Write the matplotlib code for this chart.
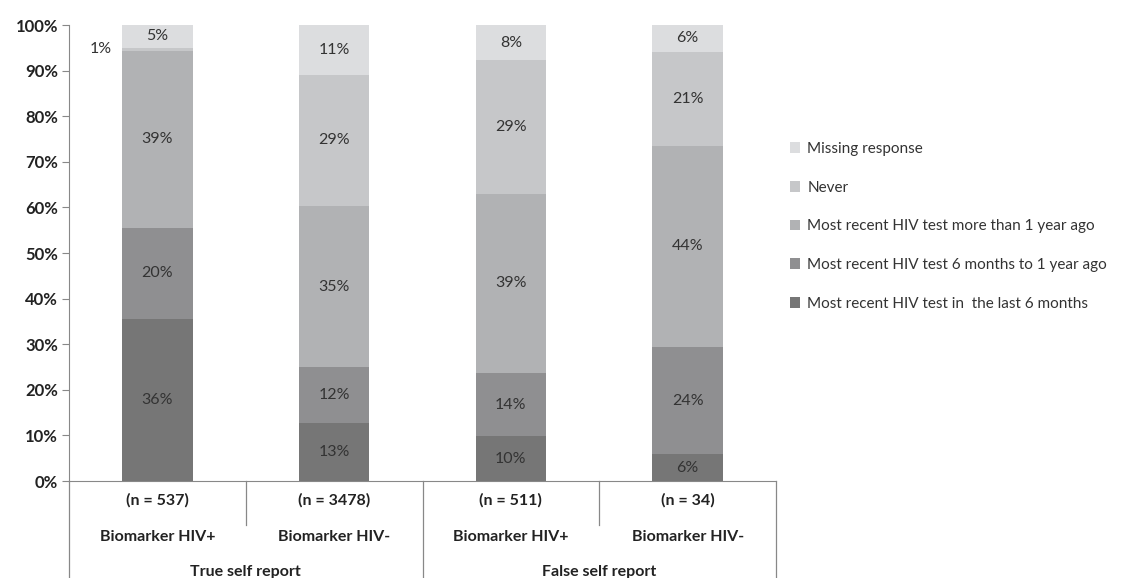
import numpy as np
import matplotlib.pyplot as plt

plt.rcParams['font.family'] = ['Lato', 'DejaVu Sans']

# Datos (porcentajes)
n_labels = ["(n = 537)", "(n = 3478)", "(n = 511)", "(n = 34)"]
biomarker = ["Biomarker HIV+", "Biomarker HIV-", "Biomarker HIV+", "Biomarker HIV-"]
groups = ["True self report", "False self report"]

series = ["Most recent HIV test in  the last 6 months",
          "Most recent HIV test 6 months to 1 year ago",
          "Most recent HIV test more than 1 year ago",
          "Never",
          "Missing response"]
last_6m = [35.6, 12.7, 9.8, 5.9]
six_to_12m = [19.9, 12.3, 13.9, 23.5]
over_1y = [38.8, 35.3, 39.3, 44.1]
never = [0.7, 28.8, 29.3, 20.6]
missing = [5.0, 10.9, 7.7, 5.9]
values = [last_6m, six_to_12m, over_1y, never, missing]
colors = ["#767676", "#8f8f91", "#b1b2b4", "#c6c7c9", "#dcdddf"]

fig = plt.figure(figsize=(11.29, 5.78), dpi=100)
ax = fig.add_axes([69 / 1129, 97 / 578, 707 / 1129, 456 / 578])

x = np.arange(4)
bottom = np.zeros(4)
for vals, col, name in zip(values, colors, series):
    ax.bar(x, vals, 0.4, bottom=bottom, color=col, label=name, zorder=2)
    for i, v in enumerate(vals):
        txt = f"{round(v):.0f}%"
        xpos = i - 0.32 if v < 2 else i
        ax.text(xpos, bottom[i] + v / 2, txt, ha='center', va='center',
                fontsize=11.5, color='#333333')
    bottom += np.array(vals)

ax.set_xlim(-0.5, 3.5)
ax.set_ylim(0, 100)
ax.set_yticks(np.arange(0, 101, 10))
ax.set_yticklabels([f"{t}%" for t in range(0, 101, 10)], fontweight='bold',
                   fontsize=12, color='#222222')
ax.set_xticks([])
ax.tick_params(axis='y', length=5, color='#888888', direction='out', pad=3)
for s in ['top', 'right']:
    ax.spines[s].set_visible(False)
ax.spines['left'].set_color('#888888')
ax.spines['bottom'].set_color('#888888')

# Tabla de categorias bajo el eje
tr = ax.transAxes
for k in range(5):
    xpos = k / 4
    y_end = -0.213 if k in (0, 2, 4) else -0.0965
    ax.plot([xpos, xpos], [0, y_end], transform=tr, color='#888888',
            lw=0.9, clip_on=False)
for i in range(4):
    xc = (i + 0.5) / 4
    ax.text(xc, -0.042, n_labels[i], transform=tr, ha='center', va='center',
            fontsize=11.5, fontweight='bold', color='#222222')
    ax.text(xc, -0.123, biomarker[i], transform=tr, ha='center', va='center',
            fontsize=11.5, fontweight='bold', color='#222222')
for j, g in enumerate(groups):
    ax.text(0.25 + 0.5 * j, -0.200, g, transform=tr, ha='center', va='center',
            fontsize=11.5, fontweight='bold', color='#222222')

handles, labels = ax.get_legend_handles_labels()
fig.legend(handles[::-1], labels[::-1], loc='upper left',
           bbox_to_anchor=(776 / 1129, 1 - 128 / 578), frameon=False,
           fontsize=11, handlelength=0.7, handleheight=0.7,
           labelspacing=1.62, handletextpad=0.45, labelcolor='#333333')

fig.savefig("out.png", dpi=100)
